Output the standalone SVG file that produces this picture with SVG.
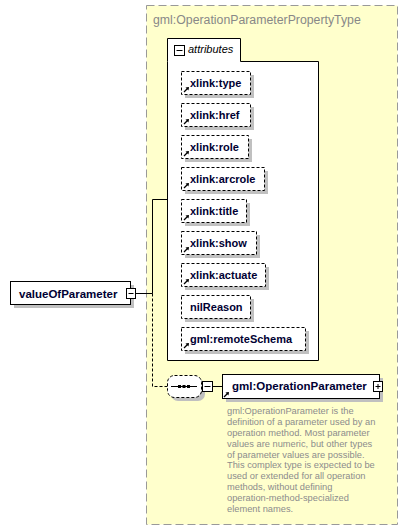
<svg xmlns="http://www.w3.org/2000/svg" width="408" height="532" viewBox="0 0 408 532">
<style>
.node{fill:#fff;stroke:#000;stroke-width:1}
.opt{fill:#fff;stroke:#000;stroke-width:1;stroke-dasharray:3 2}
.sh{fill:#c0c0c0}
.lbl{font-family:"Liberation Sans",Arial,sans-serif;font-weight:bold;font-size:11px;fill:#000033}
.desc{font-family:"Liberation Sans",Arial,sans-serif;font-size:9.3px;fill:#8c8c8c}
.btn{fill:#fff;stroke:#000;stroke-width:1}
.conn{fill:none;stroke:#000;stroke-width:1}
</style>
<defs>
<g id="refico">
<path d="M0,5 L4,1" stroke="#000" stroke-width="1.3" fill="none"/>
<path d="M5,0 L1.5,0.5 L4.5,3.5 Z" fill="#000"/>
</g>
</defs>
<rect width="408" height="532" fill="#fff"/>
<g id="complexType">
<rect x="146.5" y="5.5" width="251" height="519" fill="#ffffcc" stroke="#999" stroke-dasharray="8 4"/>
<text x="153" y="24" font-family="Liberation Sans,Arial,sans-serif" font-size="12.3px" fill="#888">gml:OperationParameterPropertyType</text>
</g>
<g id="attributes">
<path d="M167.5,61.5 V38.5 H240.5 V61.5 H318.5 V360.5 H167.5 Z" fill="#fff" stroke="#000"/>
<rect class="btn" x="174.5" y="45.5" width="10" height="10"/>
<path d="M176.5,50.5 H182.5" stroke="#000"/>
<text x="188" y="53" font-family="Liberation Sans,Arial,sans-serif" font-style="italic" font-size="11px" fill="#000">attributes</text>
</g>
<g id="connectors">
<path class="conn" d="M135.5,293.5 H152.5 V199.5 H167.5"/>
<path class="conn" d="M152.5,293.5 V386.5 H167.5" stroke-dasharray="3 2"/>
<path class="conn" d="M212.5,386.5 H222.5"/>
</g>
<g id="xlink_type">
<rect class="sh" x="185" y="75" width="69" height="23"/>
<rect class="opt" x="181.5" y="71.5" width="69" height="23"/>
<use href="#refico" x="184" y="87"/>
<text class="lbl" x="190" y="86.5">xlink:type</text>
</g>
<g id="xlink_href">
<rect class="sh" x="185" y="107" width="69" height="23"/>
<rect class="opt" x="181.5" y="103.5" width="69" height="23"/>
<use href="#refico" x="184" y="119"/>
<text class="lbl" x="190" y="118.5">xlink:href</text>
</g>
<g id="xlink_role">
<rect class="sh" x="185" y="139" width="67" height="23"/>
<rect class="opt" x="181.5" y="135.5" width="67" height="23"/>
<use href="#refico" x="184" y="151"/>
<text class="lbl" x="190" y="150.5">xlink:role</text>
</g>
<g id="xlink_arcrole">
<rect class="sh" x="185" y="171" width="83" height="23"/>
<rect class="opt" x="181.5" y="167.5" width="83" height="23"/>
<use href="#refico" x="184" y="183"/>
<text class="lbl" x="190" y="182.5">xlink:arcrole</text>
</g>
<g id="xlink_title">
<rect class="sh" x="185" y="203" width="65" height="23"/>
<rect class="opt" x="181.5" y="199.5" width="65" height="23"/>
<use href="#refico" x="184" y="215"/>
<text class="lbl" x="190" y="214.5">xlink:title</text>
</g>
<g id="xlink_show">
<rect class="sh" x="185" y="235" width="75" height="23"/>
<rect class="opt" x="181.5" y="231.5" width="75" height="23"/>
<use href="#refico" x="184" y="247"/>
<text class="lbl" x="190" y="246.5">xlink:show</text>
</g>
<g id="xlink_actuate">
<rect class="sh" x="185" y="267" width="84" height="23"/>
<rect class="opt" x="181.5" y="263.5" width="84" height="23"/>
<use href="#refico" x="184" y="279"/>
<text class="lbl" x="190" y="278.5">xlink:actuate</text>
</g>
<g id="nilReason">
<rect class="sh" x="185" y="299" width="69" height="23"/>
<rect class="opt" x="181.5" y="295.5" width="69" height="23"/>
<text class="lbl" x="190" y="310.5">nilReason</text>
</g>
<g id="gml_remoteSchema">
<rect class="sh" x="185" y="331" width="124" height="23"/>
<rect class="opt" x="181.5" y="327.5" width="124" height="23"/>
<use href="#refico" x="184" y="343"/>
<text class="lbl" x="190" y="342.5">gml:remoteSchema</text>
</g>
<g id="valueOfParameter">
<rect class="sh" x="14" y="285" width="120" height="23"/>
<rect class="node" x="10.5" y="281.5" width="120" height="23"/>
<text class="lbl" x="19" y="297.5" style="font-size:11.5px">valueOfParameter</text>
<rect class="btn" x="126.5" y="288.5" width="9" height="10"/>
<path d="M128.5,293.5 H133.5" stroke="#000"/>
</g>
<g id="sequence">
<rect class="sh" x="171" y="379" width="34" height="22" rx="7"/>
<rect class="opt" x="167.5" y="375.5" width="34" height="22" rx="7"/>
<path d="M171,386.5 H197" stroke="#000"/>
<rect x="178" y="385" width="3" height="3" fill="#000"/>
<rect x="182.5" y="385" width="3" height="3" fill="#000"/>
<rect x="187" y="385" width="3" height="3" fill="#000"/>
<rect class="btn" x="202.5" y="381.5" width="10" height="10"/>
<path d="M204.5,386.5 H210.5" stroke="#000"/>
</g>
<g id="gml_OperationParameter">
<rect class="sh" x="226" y="378" width="157" height="24"/>
<rect class="node" x="222.5" y="374.5" width="157" height="24"/>
<use href="#refico" x="224" y="392"/>
<text class="lbl" x="232" y="390" style="font-size:11.5px">gml:OperationParameter</text>
<rect class="btn" x="373.5" y="381.5" width="9" height="10"/>
<path d="M375.5,386.5 H380.5 M378,384 V389" stroke="#000"/>
<text class="desc">
<tspan x="227" y="414.3">gml:OperationParameter is the</tspan>
<tspan x="227" y="425.1">definition of a parameter used by an</tspan>
<tspan x="227" y="435.9">operation method. Most parameter</tspan>
<tspan x="227" y="446.7">values are numeric, but other types</tspan>
<tspan x="227" y="457.5">of parameter values are possible.</tspan>
<tspan x="227" y="468.3">This complex type is expected to be</tspan>
<tspan x="227" y="479.1">used or extended for all operation</tspan>
<tspan x="227" y="489.9">methods, without defining</tspan>
<tspan x="227" y="500.7">operation-method-specialized</tspan>
<tspan x="227" y="511.5">element names.</tspan>
</text>
</g>
</svg>
